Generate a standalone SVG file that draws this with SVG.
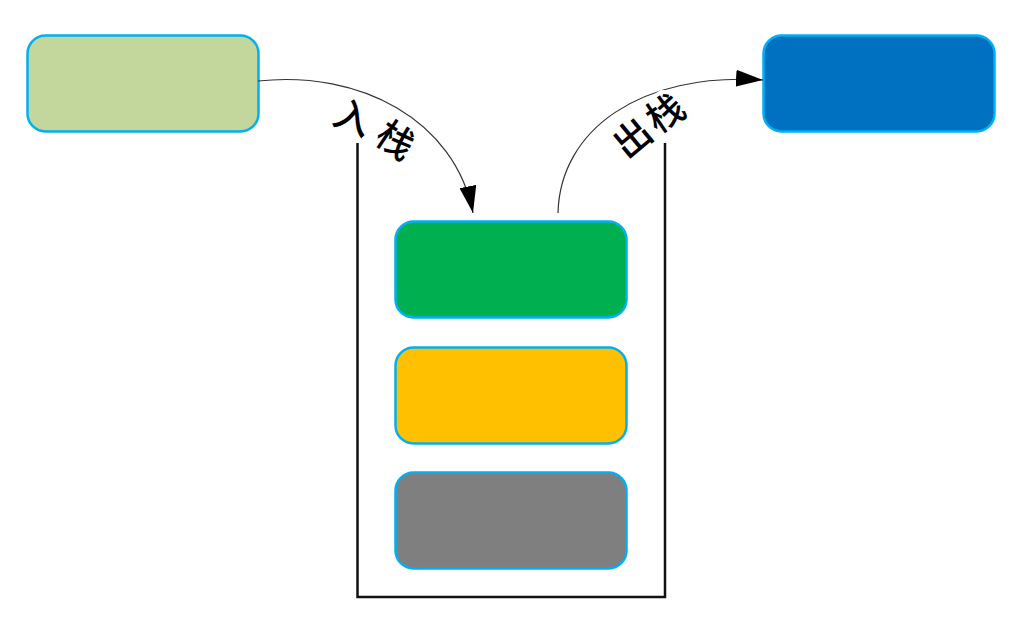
<svg xmlns="http://www.w3.org/2000/svg" width="1023" height="623" viewBox="0 0 1023 623">
<style>
.node{stroke:#00b0f0;stroke-width:2.5}
.conn{fill:none;stroke:#333;stroke-width:1.2}
.lbl{font-family:"Noto Sans CJK SC","Noto Sans",sans-serif;font-size:37px;font-weight:500;fill:#000;stroke:#fff;stroke-width:8;paint-order:stroke;text-anchor:middle;dominant-baseline:central}
</style>
<defs>
<marker id="arr" viewBox="0 0 27 17" refX="27" refY="8.5" markerWidth="27" markerHeight="17" markerUnits="userSpaceOnUse" orient="auto">
<path d="M0,0 L27,8.5 L0,17 Z" fill="#000"/>
</marker>
</defs>
<rect width="1023" height="623" fill="#fff"/>
<g id="container">
<path d="M357.5,143 V597 H665 V143" fill="none" stroke="#111" stroke-width="2.5"/>
</g>
<g id="node-in"><rect class="node" x="27.5" y="35.5" width="231" height="96" rx="18" fill="#c3d69b"/></g>
<g id="node-out"><rect class="node" x="763.5" y="35.5" width="231" height="96" rx="18" fill="#0070c0"/></g>
<g id="stack-top"><rect class="node" x="395.5" y="221.5" width="231" height="96" rx="18" fill="#00b050"/></g>
<g id="stack-mid"><rect class="node" x="395.5" y="347.5" width="231" height="96" rx="18" fill="#ffc000"/></g>
<g id="stack-bottom"><rect class="node" x="395.5" y="472.5" width="231" height="96" rx="18" fill="#7f7f7f"/></g>
<g id="connectors">
<path class="conn" d="M258,81 C360,70 455,120 473,213" marker-end="url(#arr)"/>
<path class="conn" d="M558,213 C560,130 640,72 763,80" marker-end="url(#arr)"/>
<text class="lbl" transform="translate(354,115) rotate(22)">入</text>
<text class="lbl" transform="translate(397,138) rotate(34)">栈</text>
<text class="lbl" transform="translate(631,136) rotate(-40)">出</text>
<text class="lbl" transform="translate(664,111) rotate(-34)">栈</text>
</g>
</svg>
